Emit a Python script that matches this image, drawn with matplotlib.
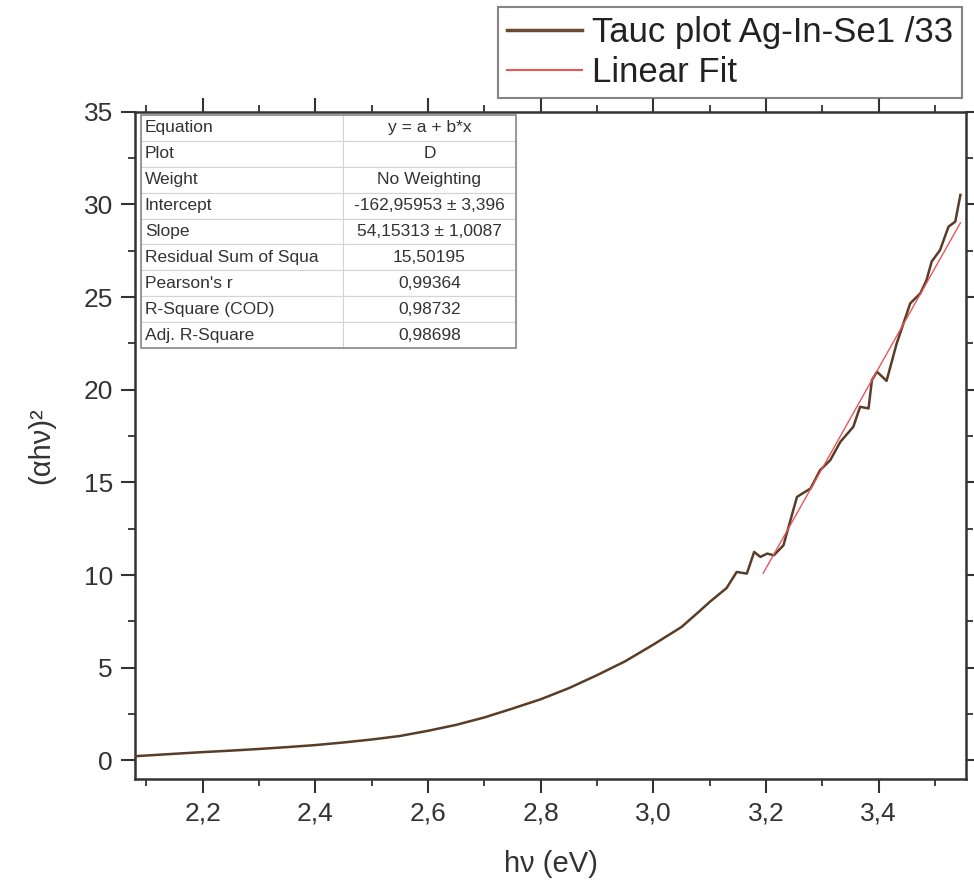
import matplotlib
matplotlib.use("Agg")
import matplotlib.pyplot as plt
from matplotlib.lines import Line2D
from matplotlib.patches import Rectangle
from matplotlib.ticker import MultipleLocator, FuncFormatter

plt.rcParams['font.family'] = ['Liberation Sans', 'DejaVu Sans']

# ---- data ----
energy = [2.08, 2.15, 2.20, 2.25, 2.30, 2.35, 2.40, 2.45, 2.50, 2.55, 2.60,
          2.65, 2.70, 2.75, 2.80, 2.85, 2.90, 2.95, 3.00, 3.05, 3.08, 3.10,
          3.13, 3.148, 3.166, 3.179, 3.19, 3.202,
          3.214, 3.231, 3.255, 3.279, 3.296, 3.314, 3.332, 3.355, 3.367, 3.382,
          3.388, 3.397, 3.414, 3.432, 3.456, 3.474, 3.485, 3.494, 3.509, 3.524,
          3.536, 3.545]
tauc = [0.23, 0.36, 0.45, 0.53, 0.62, 0.72, 0.83, 0.97, 1.13, 1.32, 1.60,
        1.92, 2.32, 2.80, 3.30, 3.90, 4.60, 5.35, 6.25, 7.20, 8.00, 8.55,
        9.30, 10.17, 10.08, 11.25, 10.98, 11.16,
        11.07, 11.61, 14.22, 14.67, 15.66, 16.2, 17.19, 18.0, 19.08, 18.99,
        20.52, 20.97, 20.48, 22.5, 24.66, 25.2, 25.92, 26.91, 27.54, 28.8,
        29.07, 30.51]
fit_x = [3.195, 3.545]
fit_y = [10.1, 29.0]

table_labels = ["Equation", "Plot", "Weight", "Intercept", "Slope",
                "Residual Sum of Squa", "Pearson's r", "R-Square (COD)",
                "Adj. R-Square"]
table_values = ["y = a + b*x", "D", "No Weighting", "-162,95953 \u00b1 3,396",
                "54,15313 \u00b1 1,0087", "15,50195", "0,99364", "0,98732",
                "0,98698"]

series_label = "Tauc plot Ag-In-Se1 /33"
fit_label = "Linear Fit"

W, H = 974, 892
fig = plt.figure(figsize=(W / 100, H / 100), dpi=100)
L, R, B, T = 135, 966, 779, 111.7
ax = fig.add_axes([L / W, 1 - B / H, (R - L) / W, (B - T) / H])

data_color = '#5a3d26'
fit_color = '#e8555a'
ax.plot(energy, tauc, color=data_color, lw=1.8, zorder=3)
ax.plot(fit_x, fit_y, color=fit_color, lw=1.0, zorder=4)

ax.set_xlim(2.08, 3.555)
ax.set_ylim(-1.0, 35.0)

ax.xaxis.set_major_locator(MultipleLocator(0.2))
ax.xaxis.set_minor_locator(MultipleLocator(0.1))
ax.yaxis.set_major_locator(MultipleLocator(5))
ax.yaxis.set_minor_locator(MultipleLocator(2.5))
ax.xaxis.set_major_formatter(FuncFormatter(lambda v, p: f"{v:.1f}".replace('.', ',')))
ax.yaxis.set_major_formatter(FuncFormatter(lambda v, p: f"{v:.0f}"))

for s in ax.spines.values():
    s.set_linewidth(1.8)
    s.set_color('#333333')
ax.tick_params(which='both', direction='out', top=True, right=True,
               labeltop=False, labelright=False, color='#333333')
ax.tick_params(which='major', length=10, width=1.5, labelsize=19,
               labelcolor='#333333', pad=6)
ax.tick_params(which='minor', length=5, width=1.3)

ax.set_xlabel("h\u03bd (eV)", fontsize=21, color='#333333', labelpad=18)
ax.set_ylabel("(\u03b1h\u03bd)\u00b2", fontsize=21, color='#333333', labelpad=20)

# ---- fit table ----
tx0 = (140.7 - L) / (R - L)
tx1 = (516 - L) / (R - L)
ty1 = (B - 115) / (B - T)
ty0 = (B - 348) / (B - T)
tw = tx1 - tx0
tbl = ax.table(cellText=[[a, b] for a, b in zip(table_labels, table_values)],
               colWidths=[0.539 * tw, 0.461 * tw],
               bbox=[tx0, ty0, tw, ty1 - ty0], zorder=5)
tbl.auto_set_font_size(False)
for (r, c), cell in tbl.get_celld().items():
    cell.set_edgecolor('#d4d4d4')
    cell.set_linewidth(0.8)
    cell.set_facecolor('white')
    txt = cell.get_text()
    txt.set_fontsize(12.5)
    txt.set_color('#333333')
    if c == 0:
        txt.set_horizontalalignment('left')
        cell.PAD = 0.02
    else:
        txt.set_horizontalalignment('center')
ax.add_patch(Rectangle((tx0, ty0), tw, ty1 - ty0, transform=ax.transAxes,
                       fill=False, edgecolor='#8a8a8a', lw=1.2, zorder=6))

# ---- legend ----
handles = [Line2D([], [], color='#6b4a30', lw=2.5),
           Line2D([], [], color=fit_color, lw=1.5)]
leg = fig.legend(handles, [series_label, fit_label], loc='upper right',
                 bbox_to_anchor=(962 / W, 1 - 7 / H), fontsize=25,
                 frameon=True, fancybox=False, edgecolor='#666666',
                 borderaxespad=0, handlelength=2.15, handletextpad=0.3,
                 borderpad=0.25, labelspacing=0.22)
leg.get_frame().set_linewidth(1.5)
for t in leg.get_texts():
    t.set_color('#222222')

fig.savefig("out.png", dpi=100)
